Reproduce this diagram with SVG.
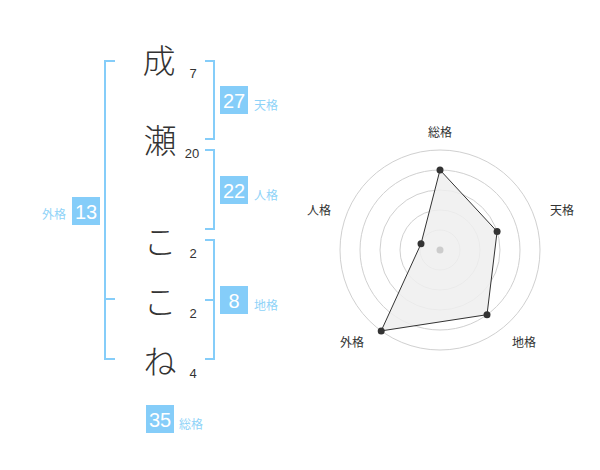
<svg xmlns="http://www.w3.org/2000/svg" width="600" height="470" viewBox="0 0 600 470">
<style>
.ch{font-family:"Noto Sans CJK JP","Noto Sans",sans-serif;font-size:33px;font-weight:300;fill:#333;text-anchor:middle;dominant-baseline:central}
.sn{font-family:"Liberation Sans",Arial,sans-serif;font-size:13px;fill:#333;text-anchor:middle;dominant-baseline:central}
.br{fill:none;stroke:#85cdf9;stroke-width:2}
.bx{fill:#85cdf9}
.bn{font-family:"Liberation Sans",Arial,sans-serif;font-size:20px;fill:#fff;text-anchor:middle;dominant-baseline:central}
.lb{font-family:"Noto Sans CJK JP","Noto Sans",sans-serif;font-size:12px;fill:#8fd3f8;dominant-baseline:central}
.rl{font-family:"Noto Sans CJK JP","Noto Sans",sans-serif;font-size:12px;fill:#333;text-anchor:middle;dominant-baseline:central}
.ring{fill:none;stroke:#d0d0d0;stroke-width:1}
.pt{fill:#333}
</style>
<rect width="600" height="470" fill="#fff"/>
<g id="name">
<text class="ch" x="159" y="59">成</text>
<text class="ch" x="160" y="139">瀬</text>
<text class="ch" x="160" y="240">こ</text>
<text class="ch" x="160" y="300">こ</text>
<text class="ch" x="160" y="360">ね</text>
<text class="sn" x="193" y="73">7</text>
<text class="sn" x="192" y="153">20</text>
<text class="sn" x="193" y="253">2</text>
<text class="sn" x="193" y="313">2</text>
<text class="sn" x="193" y="373">4</text>
</g>
<g id="connectors">
<path class="br" d="M115,61 H105 V359 H115 M105,299 H115"/>
<path class="br" d="M205,61 H214 V139 H205"/>
<path class="br" d="M205,150 H214 V229 H205"/>
<path class="br" d="M205,240 H214 V359 H205 M205,300 H214"/>
</g>
<g id="tenkaku">
<rect class="bx" x="220" y="86" width="28" height="28"/>
<text class="bn" x="234" y="101">27</text>
<text class="lb" x="254" y="104">天格</text>
</g>
<g id="jinkaku">
<rect class="bx" x="220" y="176" width="28" height="28"/>
<text class="bn" x="234" y="191">22</text>
<text class="lb" x="254" y="194">人格</text>
</g>
<g id="gaikaku">
<rect class="bx" x="72" y="197" width="28" height="28"/>
<text class="bn" x="86" y="212">13</text>
<text class="lb" x="66" y="213" text-anchor="end">外格</text>
</g>
<g id="chikaku">
<rect class="bx" x="220" y="286" width="28" height="28"/>
<text class="bn" x="234" y="301">8</text>
<text class="lb" x="254" y="304">地格</text>
</g>
<g id="soukaku">
<rect class="bx" x="146" y="405" width="28" height="28"/>
<text class="bn" x="160" y="420">35</text>
<text class="lb" x="179" y="423">総格</text>
</g>
<g id="radar">
<circle class="ring" cx="440" cy="250" r="20"/>
<circle class="ring" cx="440" cy="250" r="40"/>
<circle class="ring" cx="440" cy="250" r="60"/>
<circle class="ring" cx="440" cy="250" r="80"/>
<circle class="ring" cx="440" cy="250" r="100"/>
<polygon points="440,170 497.1,231.5 487,314.7 381.2,330.9 421,243.8" fill="#eee" fill-opacity="0.85" stroke="#333" stroke-width="1"/>
<circle cx="440" cy="250" r="3.5" fill="#ccc"/>
<circle class="pt" cx="440" cy="170" r="3.5"/>
<circle class="pt" cx="497.1" cy="231.5" r="3.5"/>
<circle class="pt" cx="487" cy="314.7" r="3.5"/>
<circle class="pt" cx="381.2" cy="330.9" r="3.5"/>
<circle class="pt" cx="421" cy="243.8" r="3.5"/>
<text class="rl" x="440" y="131">総格</text>
<text class="rl" x="562" y="209">天格</text>
<text class="rl" x="524" y="341">地格</text>
<text class="rl" x="352" y="341">外格</text>
<text class="rl" x="319" y="209">人格</text>
</g>
</svg>
